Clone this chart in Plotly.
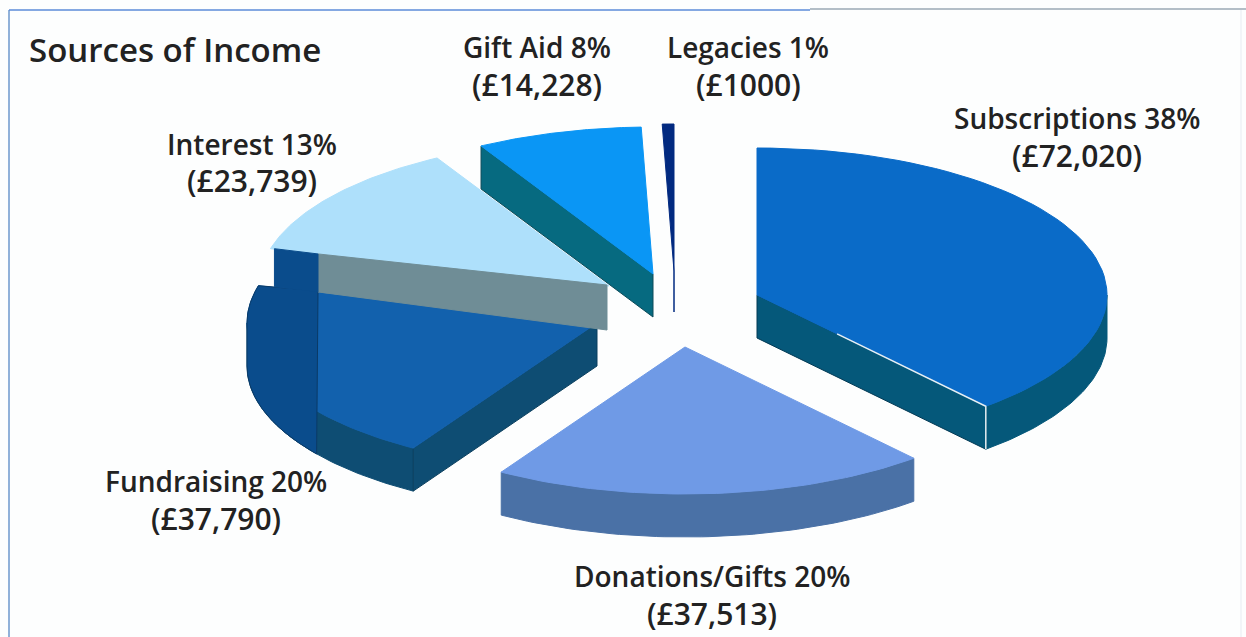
import numpy as np
import plotly.graph_objects as go

# ---- data ----
categories = ["Subscriptions", "Donations/Gifts", "Fundraising", "Interest", "Gift Aid", "Legacies"]
values = [72020, 37513, 37790, 23739, 14228, 1000]
percent_labels = ["38%", "20%", "20%", "13%", "8%", "1%"]
amount_labels = ["(£72,020)", "(£37,513)", "(£37,790)", "(£23,739)", "(£14,228)", "(£1000)"]
title_text = "Sources of Income"

# ---- styling / layout of the exploded 3-D pie ----
W, H = 1246, 637
RX, RY = 350, 147
DEPTH = 43
centres = {"Subscriptions": (757, 295), "Donations/Gifts": (685, 347), "Fundraising": (597, 323),
           "Interest": (609, 286), "Gift Aid": (653, 274), "Legacies": (674, 271)}
top_col = {"Subscriptions": "#0a6bc8", "Donations/Gifts": "#6f9ae6", "Fundraising": "#1261ad",
           "Interest": "#aee0fb", "Gift Aid": "#0a96f5", "Legacies": "#022a80"}
wall_col = {"Subscriptions": "#05587a", "Donations/Gifts": "#4a71a6", "Fundraising": "#0e4d73",
            "Interest": "#6f8d96", "Gift Aid": "#066a80", "Legacies": "#022a80"}
label_pos = {"Subscriptions": (1077, 118, 155), "Donations/Gifts": (712, 576, 613),
             "Fundraising": (216, 481, 518), "Interest": (252, 144, 180),
             "Gift Aid": (537, 47, 84), "Legacies": (748, 47, 84)}
OVERLAY_X = 318
OVERLAY_COL = "#0a4c8c"
FONT = "Open Sans"
TXT = "#222222"

shares = np.array(values, dtype=float) / sum(values)
edges = np.concatenate([[0], np.cumsum(shares)]) * 2 * np.pi
span = {c: (edges[i], edges[i + 1]) for i, c in enumerate(categories)}


def arc(c, a0, a1, dy=0.0, n=60):
    cx, cy = centres[c]
    t = np.linspace(a0, a1, n)
    return cx + RX * np.sin(t), cy - RY * np.cos(t) + dy


fig = go.Figure()


def poly(x, y, color, line=None):
    fig.add_trace(go.Scatter(x=list(x) + [x[0]], y=list(y) + [y[0]], mode="lines", fill="toself",
                             fillcolor=color, line=dict(color=line or color, width=1),
                             hoverinfo="skip", showlegend=False))


def radial_face(c, a, color, line=None):
    cx, cy = centres[c]
    px = cx + RX * np.sin(a)
    py = cy - RY * np.cos(a)
    poly([cx, px, px, cx], [cy, py, py + DEPTH, cy + DEPTH], color, line)


def rim(c, a0, a1, color):
    x0, y0 = arc(c, a0, a1)
    x1, y1 = arc(c, a1, a0, DEPTH)
    poly(np.r_[x0, x1], np.r_[y0, y1], color)


def top(c):
    a0, a1 = span[c]
    x, y = arc(c, a0, a1)
    cx, cy = centres[c]
    poly(np.r_[cx, x], np.r_[cy, y], top_col[c])


# Gift Aid
c = "Gift Aid"
radial_face(c, span[c][0], wall_col[c], "#0c4a58")
top(c)

# Legacies
c = "Legacies"
cx, cy = centres[c]
x, y = arc(c, *span[c])
poly(np.r_[cx, cx, x], np.r_[cy + DEPTH - 2, cy, y], top_col[c])

# Fundraising
c = "Fundraising"
a0, a1 = span[c]
rim(c, a0, 1.5 * np.pi, wall_col[c])
radial_face(c, a0, wall_col[c], "#0b3f5e")
top(c)
# darker band on the left of the Fundraising slice: lower rim up to the leftmost point, then upper arc
bx, by = arc(c, a0, 1.5 * np.pi, DEPTH, 120)
keep = bx <= OVERLAY_X
ux, uy = arc(c, 1.5 * np.pi, a1, 0, 30)
poly(np.r_[bx[keep], ux, OVERLAY_X], np.r_[by[keep], uy, uy[-1] + 5], OVERLAY_COL, "#0a3a66")

# Interest
c = "Interest"
a0, a1 = span[c]
top(c)
cx, cy = centres[c]
lx, ly = arc(c, a0, a0, 0, 1)
frac = (OVERLAY_X - lx[0]) / (cx - lx[0])
my = ly[0] + frac * (cy - ly[0])
poly([OVERLAY_X, cx - 2, cx - 2, OVERLAY_X], [my, cy - 1, cy + DEPTH + 1, my + DEPTH - 5], wall_col[c])
poly([lx[0] + 4, OVERLAY_X, OVERLAY_X, lx[0] + 4], [ly[0], my, my + DEPTH - 5, ly[0] + DEPTH - 5], OVERLAY_COL)

# Donations/Gifts
c = "Donations/Gifts"
rim(c, *span[c], wall_col[c])
top(c)

# Subscriptions
c = "Subscriptions"
a0, a1 = span[c]
rim(c, np.pi / 2, a1, wall_col[c])
radial_face(c, a1, wall_col[c], "#033a55")
top(c)
ex, ey = arc(c, a1, a1, 0, 1)
cx, cy = centres[c]
fig.add_trace(go.Scatter(x=[cx + 0.35 * (ex[0] - cx), ex[0], ex[0]],
                         y=[cy + 0.35 * (ey[0] - cy), ey[0], ey[0] + DEPTH],
                         mode="lines", line=dict(color="#e8f0f4", width=1.5),
                         hoverinfo="skip", showlegend=False))

# Frame
shapes = [
    dict(type="line", x0=9, x1=9, y0=10, y1=H, line=dict(color="#6d97cc", width=1.5)),
    dict(type="line", x0=9, x1=810, y0=10, y1=10, line=dict(color="#5b8bd8", width=1.5)),
    dict(type="line", x0=810, x1=W, y0=9, y1=9, line=dict(color="#9aa8b4", width=1.5)),
    dict(type="line", x0=1241, x1=1241, y0=10, y1=H, line=dict(color="#eef2f6", width=1.5)),
]

annotations = [dict(x=27, y=49, text=title_text, showarrow=False, xanchor="left", yanchor="middle",
                    font=dict(family=FONT, size=33, color=TXT, weight=600))]
for name, pct, amt in zip(categories, percent_labels, amount_labels):
    lx_, y1_, y2_ = label_pos[name]
    annotations.append(dict(x=lx_, y=y1_, text=f"{name} {pct}", showarrow=False, xanchor="center",
                            yanchor="middle", font=dict(family=FONT, size=28, color=TXT, weight=600)))
    annotations.append(dict(x=lx_, y=y2_, text=amt, showarrow=False, xanchor="center",
                            yanchor="middle", font=dict(family=FONT, size=30, color=TXT, weight=600)))

fig.update_layout(
    width=W, height=H, margin=dict(l=0, r=0, t=0, b=0),
    paper_bgcolor="#fdfefe", plot_bgcolor="#fdfefe", showlegend=False,
    xaxis=dict(range=[0, W], visible=False, fixedrange=True),
    yaxis=dict(range=[H, 0], visible=False, fixedrange=True),
    shapes=shapes, annotations=annotations,
)
fig.write_html("out.html", config={"displayModeBar": False},
               post_script="document.body.style.margin='0';document.body.style.overflow='hidden';")
